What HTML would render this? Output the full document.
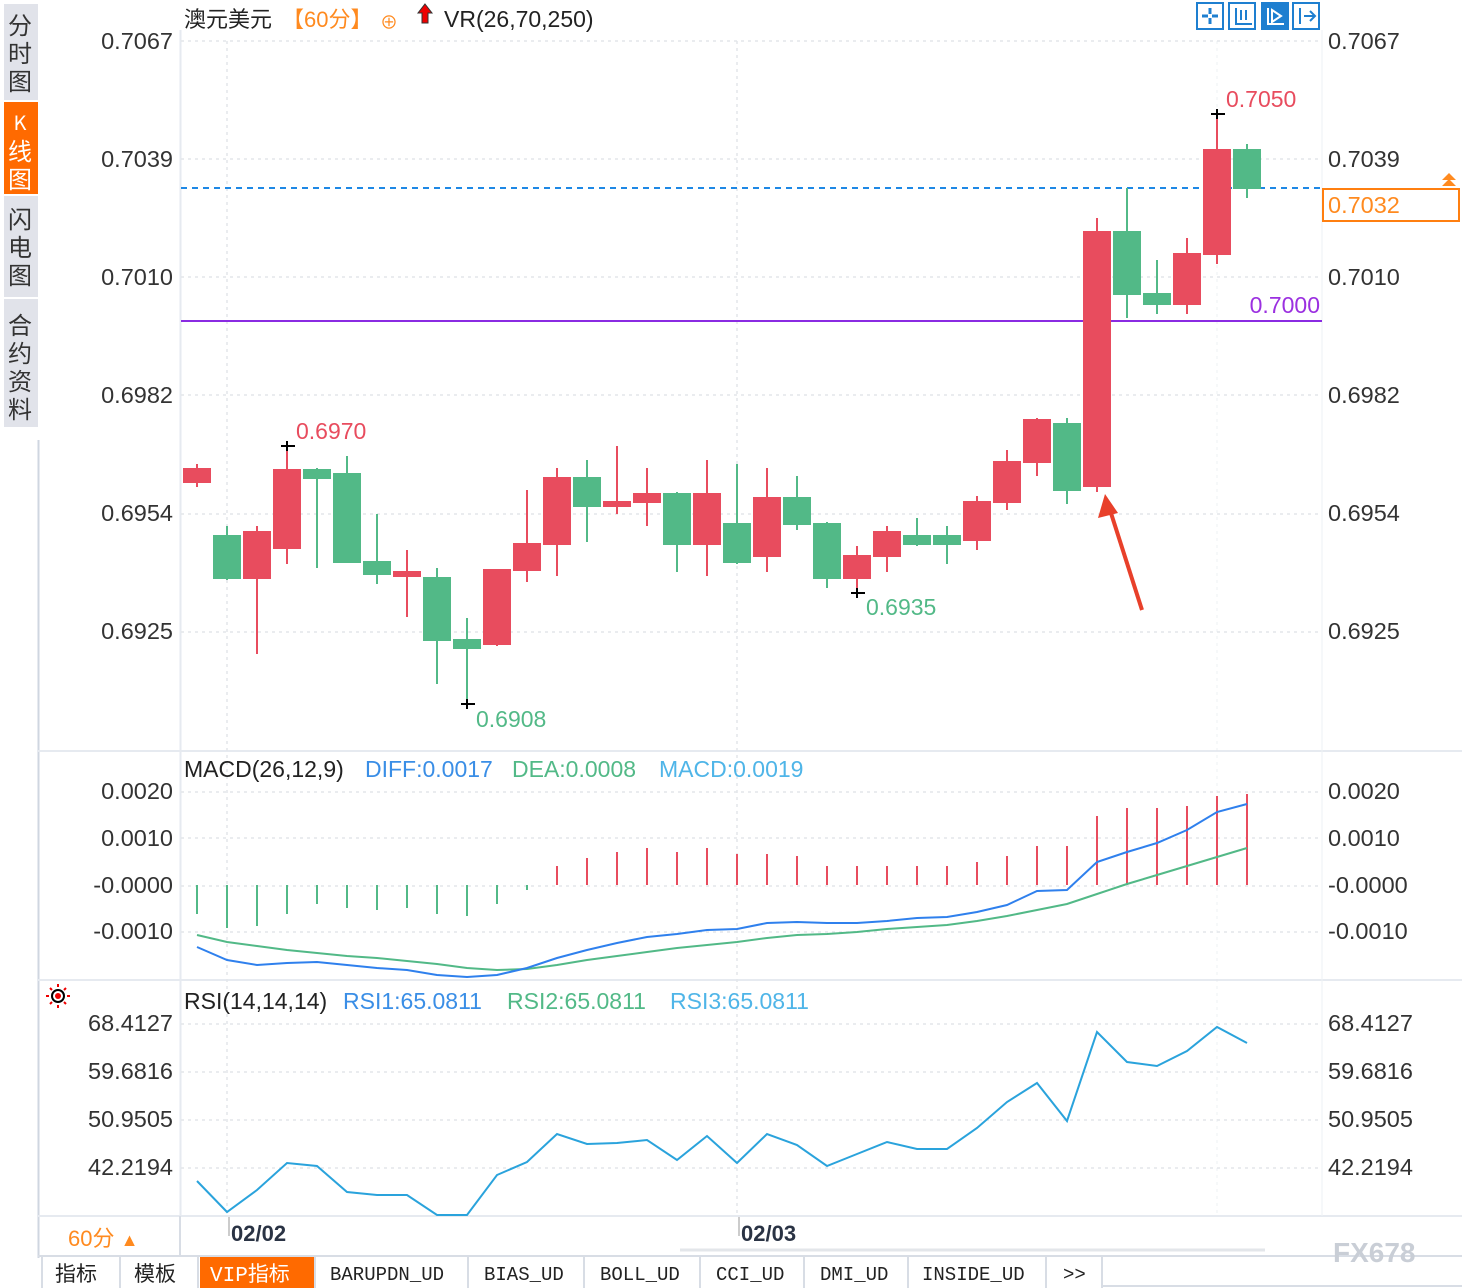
<!DOCTYPE html>
<html><head><meta charset="utf-8"><style>
html,body{margin:0;padding:0;background:#fff;}
svg{display:block;font-family:"Liberation Sans","Noto Sans CJK SC",sans-serif;}
</style></head><body>
<svg width="1462" height="1288" viewBox="0 0 1462 1288" xmlns="http://www.w3.org/2000/svg">
<rect width="1462" height="1288" fill="#fff"/>
<!-- sidebar -->
<rect x="4" y="4" width="34" height="96" fill="#e1e3ea"/>
<rect x="4" y="102" width="34" height="92" fill="#ff6a00"/>
<rect x="4" y="196" width="34" height="101" fill="#e1e3ea"/>
<rect x="4" y="299" width="34" height="128" fill="#e1e3ea"/>
<g font-size="24" fill="#333" text-anchor="middle" font-family="Noto Sans CJK SC,sans-serif">
<text x="20" y="34">分</text><text x="20" y="62">时</text><text x="20" y="90">图</text>
<text x="20" y="130" fill="#fff" font-size="20">K</text><text x="20" y="160" fill="#fff">线</text><text x="20" y="188" fill="#fff">图</text>
<text x="20" y="228">闪</text><text x="20" y="256">电</text><text x="20" y="284">图</text>
<text x="20" y="334">合</text><text x="20" y="362">约</text><text x="20" y="390">资</text><text x="20" y="418">料</text>
</g>
<!-- frame lines -->
<line x1="38.5" y1="440" x2="38.5" y2="1258" stroke="#cfd6e0" stroke-width="2"/>
<line x1="180.5" y1="30" x2="180.5" y2="1216" stroke="#e6eaf0" stroke-width="2"/>
<line x1="38" y1="751" x2="1462" y2="751" stroke="#e6eaf0" stroke-width="2"/>
<line x1="38" y1="980" x2="1462" y2="980" stroke="#e6eaf0" stroke-width="2"/>
<line x1="38" y1="1216" x2="1462" y2="1216" stroke="#e6eaf0" stroke-width="2"/>
<line x1="38" y1="1256" x2="1462" y2="1256" stroke="#d8dde5" stroke-width="2"/>
<line x1="1322" y1="30" x2="1322" y2="1216" stroke="#eef1f5" stroke-width="1"/>
<!-- grid -->
<g stroke="#e3e6ea" stroke-dasharray="3,4" stroke-width="1.5">
<line x1="181" y1="41" x2="1322" y2="41"/><line x1="181" y1="159" x2="1322" y2="159"/><line x1="181" y1="277" x2="1322" y2="277"/>
<line x1="181" y1="395" x2="1322" y2="395"/><line x1="181" y1="514" x2="1322" y2="514"/><line x1="181" y1="632" x2="1322" y2="632"/>
<line x1="181" y1="792" x2="1322" y2="792"/><line x1="181" y1="838" x2="1322" y2="838"/><line x1="181" y1="886" x2="1322" y2="886"/><line x1="181" y1="932" x2="1322" y2="932"/>
<line x1="181" y1="1024" x2="1322" y2="1024"/><line x1="181" y1="1072" x2="1322" y2="1072"/><line x1="181" y1="1120" x2="1322" y2="1120"/><line x1="181" y1="1168" x2="1322" y2="1168"/>
<line x1="227" y1="41" x2="227" y2="1216"/><line x1="737" y1="41" x2="737" y2="1216"/><line x1="1217" y1="41" x2="1217" y2="1216" stroke-opacity="0.4"/>
</g>
<!-- axis labels -->
<g font-size="23.5" fill="#333" text-anchor="end">
<text x="173" y="49">0.7067</text><text x="173" y="167">0.7039</text><text x="173" y="285">0.7010</text><text x="173" y="403">0.6982</text><text x="173" y="521">0.6954</text><text x="173" y="639">0.6925</text>
<text x="173" y="799">0.0020</text><text x="173" y="846">0.0010</text><text x="173" y="893">-0.0000</text><text x="173" y="939">-0.0010</text>
<text x="173" y="1031">68.4127</text><text x="173" y="1079">59.6816</text><text x="173" y="1127">50.9505</text><text x="173" y="1175">42.2194</text>
</g>
<g font-size="23.5" fill="#333">
<text x="1328" y="49">0.7067</text><text x="1328" y="167">0.7039</text><text x="1328" y="285">0.7010</text><text x="1328" y="403">0.6982</text><text x="1328" y="521">0.6954</text><text x="1328" y="639">0.6925</text>
<text x="1328" y="799">0.0020</text><text x="1328" y="846">0.0010</text><text x="1328" y="893">-0.0000</text><text x="1328" y="939">-0.0010</text>
<text x="1328" y="1031">68.4127</text><text x="1328" y="1079">59.6816</text><text x="1328" y="1127">50.9505</text><text x="1328" y="1175">42.2194</text>
</g>
<!-- title -->
<text x="184" y="27" font-size="22" fill="#222">澳元美元</text>
<text x="282" y="27" font-size="22" fill="#ff8a1f">【60分】</text>
<text x="380" y="29" font-size="18" fill="#ff8a1f">⊕</text>
<path d="M425 4 l7 9 h-4 v10 h-6 v-10 h-4 z" fill="#e00" stroke="#333" stroke-width="1"/>
<text x="444" y="27" font-size="23" fill="#222">VR(26,70,250)</text>
<!-- top right buttons -->
<g fill="none" stroke="#1e7fd0" stroke-width="2">
<rect x="1197" y="3" width="26" height="26"/><rect x="1229" y="3" width="26" height="26"/><rect x="1293" y="3" width="26" height="26"/>
</g>
<rect x="1261" y="2" width="28" height="28" fill="#1e7fd0"/>
<g stroke="#1e7fd0" stroke-width="3"><line x1="1210" y1="8" x2="1210" y2="14"/><line x1="1210" y1="18" x2="1210" y2="24"/><line x1="1202" y1="16" x2="1208" y2="16"/><line x1="1212" y1="16" x2="1218" y2="16"/>
<path d="M1236 8 v16 h16 M1241 10 v10 M1246 10 v10" fill="none" stroke-width="2"/><path d="M1300 8 v16 M1304 16 h10 M1310 11 l5 5 -5 5" fill="none" stroke-width="2"/></g>
<path d="M1268 8 v16 h16 M1272 10 l9 6 -9 6z" fill="none" stroke="#fff" stroke-width="2"/>
<!-- price lines -->
<line x1="181" y1="188" x2="1322" y2="188" stroke="#1e88e5" stroke-width="2" stroke-dasharray="6,5"/>
<line x1="181" y1="321" x2="1322" y2="321" stroke="#8a2be2" stroke-width="2"/>
<text x="1320" y="313" font-size="23" fill="#9b30e0" text-anchor="end">0.7000</text>
<rect x="1323" y="189" width="136" height="32" fill="#fff" stroke="#ff7f10" stroke-width="2"/>
<text x="1328" y="213" font-size="23.5" fill="#ff8a1f">0.7032</text>
<path d="M1442 186 l7 -7 7 7z M1442 180 l7 -7 7 7z" fill="#ff8a1f"/>
<!-- candles -->
<g stroke-width="2">
<g stroke="#e84c5e" fill="#e84c5e">
<line x1="197" y1="464" x2="197" y2="487"/><rect x="184" y="469" width="26" height="13"/>
<line x1="257" y1="526" x2="257" y2="654"/><rect x="244" y="532" width="26" height="46"/>
<line x1="287" y1="446" x2="287" y2="564"/><rect x="274" y="470" width="26" height="78"/>
<line x1="407" y1="550" x2="407" y2="617"/><rect x="394" y="572" width="26" height="4"/>
<line x1="497" y1="570" x2="497" y2="646"/><rect x="484" y="570" width="26" height="74"/>
<line x1="527" y1="490" x2="527" y2="582"/><rect x="514" y="544" width="26" height="26"/>
<line x1="557" y1="468" x2="557" y2="576"/><rect x="544" y="478" width="26" height="66"/>
<line x1="617" y1="446" x2="617" y2="514"/><rect x="604" y="502" width="26" height="4"/>
<line x1="647" y1="468" x2="647" y2="526"/><rect x="634" y="494" width="26" height="8"/>
<line x1="707" y1="460" x2="707" y2="576"/><rect x="694" y="494" width="26" height="50"/>
<line x1="767" y1="468" x2="767" y2="572"/><rect x="754" y="498" width="26" height="58"/>
<line x1="857" y1="546" x2="857" y2="592"/><rect x="844" y="556" width="26" height="22"/>
<line x1="887" y1="526" x2="887" y2="572"/><rect x="874" y="532" width="26" height="24"/>
<line x1="977" y1="496" x2="977" y2="550"/><rect x="964" y="502" width="26" height="38"/>
<line x1="1007" y1="450" x2="1007" y2="510"/><rect x="994" y="462" width="26" height="40"/>
<line x1="1037" y1="418" x2="1037" y2="476"/><rect x="1024" y="420" width="26" height="42"/>
<line x1="1097" y1="218" x2="1097" y2="492"/><rect x="1084" y="232" width="26" height="254"/>
<line x1="1187" y1="238" x2="1187" y2="314"/><rect x="1174" y="254" width="26" height="50"/>
<line x1="1217" y1="114" x2="1217" y2="264"/><rect x="1204" y="150" width="26" height="104"/>
</g>
<g stroke="#52b987" fill="#52b987">
<line x1="227" y1="526" x2="227" y2="580"/><rect x="214" y="536" width="26" height="42"/>
<line x1="317" y1="468" x2="317" y2="568"/><rect x="304" y="470" width="26" height="8"/>
<line x1="347" y1="456" x2="347" y2="562"/><rect x="334" y="474" width="26" height="88"/>
<line x1="377" y1="514" x2="377" y2="584"/><rect x="364" y="562" width="26" height="12"/>
<line x1="437" y1="568" x2="437" y2="684"/><rect x="424" y="578" width="26" height="62"/>
<line x1="467" y1="618" x2="467" y2="704"/><rect x="454" y="640" width="26" height="8"/>
<line x1="587" y1="460" x2="587" y2="542"/><rect x="574" y="478" width="26" height="28"/>
<line x1="677" y1="492" x2="677" y2="572"/><rect x="664" y="494" width="26" height="50"/>
<line x1="737" y1="464" x2="737" y2="564"/><rect x="724" y="524" width="26" height="38"/>
<line x1="797" y1="476" x2="797" y2="530"/><rect x="784" y="498" width="26" height="26"/>
<line x1="827" y1="522" x2="827" y2="588"/><rect x="814" y="524" width="26" height="54"/>
<line x1="917" y1="518" x2="917" y2="546"/><rect x="904" y="536" width="26" height="8"/>
<line x1="947" y1="526" x2="947" y2="564"/><rect x="934" y="536" width="26" height="8"/>
<line x1="1067" y1="418" x2="1067" y2="504"/><rect x="1054" y="424" width="26" height="66"/>
<line x1="1127" y1="188" x2="1127" y2="318"/><rect x="1114" y="232" width="26" height="62"/>
<line x1="1157" y1="260" x2="1157" y2="314"/><rect x="1144" y="294" width="26" height="10"/>
<line x1="1247" y1="144" x2="1247" y2="198"/><rect x="1234" y="150" width="26" height="38"/>
</g>
</g>
<!-- hi/lo markers -->
<g stroke="#000" stroke-width="2"><line x1="281" y1="446" x2="295" y2="446"/><line x1="287" y1="441" x2="287" y2="451"/>
<line x1="461" y1="704" x2="475" y2="704"/><line x1="467" y1="699" x2="467" y2="709"/>
<line x1="851" y1="593" x2="865" y2="593"/><line x1="857" y1="588" x2="857" y2="598"/>
<line x1="1211" y1="114" x2="1225" y2="114"/><line x1="1217" y1="109" x2="1217" y2="119"/></g>
<g font-size="23"><text x="296" y="439" fill="#e84c5e">0.6970</text><text x="476" y="727" fill="#52b987">0.6908</text>
<text x="866" y="615" fill="#52b987">0.6935</text><text x="1226" y="107" fill="#e84c5e">0.7050</text></g>
<!-- arrow -->
<line x1="1142" y1="610" x2="1110" y2="510" stroke="#e8402a" stroke-width="4"/>
<path d="M1105 494 l-7 24 l20 -5z" fill="#e8402a"/>
<!-- MACD -->
<g font-size="23"><text x="184" y="777" fill="#222">MACD(26,12,9)</text><text x="365" y="777" fill="#3a8ee6">DIFF:0.0017</text><text x="512" y="777" fill="#52b987">DEA:0.0008</text><text x="659" y="777" fill="#4fb5e8">MACD:0.0019</text></g>
<g stroke="#52b987" stroke-width="2">
<line x1="197" y1="885" x2="197" y2="914"/><line x1="227" y1="885" x2="227" y2="928"/><line x1="257" y1="885" x2="257" y2="926"/><line x1="287" y1="885" x2="287" y2="914"/>
<line x1="317" y1="885" x2="317" y2="904"/><line x1="347" y1="885" x2="347" y2="908"/><line x1="377" y1="885" x2="377" y2="910"/><line x1="407" y1="885" x2="407" y2="908"/>
<line x1="437" y1="885" x2="437" y2="914"/><line x1="467" y1="885" x2="467" y2="916"/><line x1="497" y1="885" x2="497" y2="904"/><line x1="527" y1="885" x2="527" y2="890"/>
</g>
<g stroke="#e84c5e" stroke-width="2">
<line x1="557" y1="885" x2="557" y2="866"/><line x1="587" y1="885" x2="587" y2="858"/><line x1="617" y1="885" x2="617" y2="852"/><line x1="647" y1="885" x2="647" y2="848"/>
<line x1="677" y1="885" x2="677" y2="852"/><line x1="707" y1="885" x2="707" y2="848"/><line x1="737" y1="885" x2="737" y2="854"/><line x1="767" y1="885" x2="767" y2="854"/>
<line x1="797" y1="885" x2="797" y2="856"/><line x1="827" y1="885" x2="827" y2="866"/><line x1="857" y1="885" x2="857" y2="866"/><line x1="887" y1="885" x2="887" y2="866"/>
<line x1="917" y1="885" x2="917" y2="866"/><line x1="947" y1="885" x2="947" y2="866"/><line x1="977" y1="885" x2="977" y2="862"/><line x1="1007" y1="885" x2="1007" y2="856"/>
<line x1="1037" y1="885" x2="1037" y2="846"/><line x1="1067" y1="885" x2="1067" y2="846"/><line x1="1097" y1="885" x2="1097" y2="816"/><line x1="1127" y1="885" x2="1127" y2="808"/>
<line x1="1157" y1="885" x2="1157" y2="808"/><line x1="1187" y1="885" x2="1187" y2="806"/><line x1="1217" y1="885" x2="1217" y2="796"/><line x1="1247" y1="885" x2="1247" y2="794"/>
</g>
<polyline fill="none" stroke="#52b987" stroke-width="2" points="197,935 227,942 257,946 287,950 317,953 347,956 377,958 407,961 437,964 467,968 497,970 527,969 557,965 587,960 617,956 647,952 677,948 707,945 737,942 767,938 797,935 827,934 857,932 887,929 917,927 947,925 977,921 1007,916 1037,910 1067,904 1097,894 1127,884 1157,875 1187,866 1217,857 1247,848"/>
<polyline fill="none" stroke="#2f80ed" stroke-width="2" points="197,947 227,960 257,965 287,963 317,962 347,965 377,968 407,970 437,975 467,977 497,975 527,968 557,958 587,950 617,943 647,937 677,934 707,930 737,929 767,923 797,922 827,923 857,923 887,921 917,918 947,917 977,912 1007,905 1037,891 1067,890 1097,862 1127,852 1157,843 1187,830 1217,812 1247,804"/>
<!-- RSI -->
<g stroke="#e00" stroke-width="2" fill="none"><circle cx="58" cy="996" r="6" stroke="#000"/><circle cx="58" cy="996" r="3" fill="#e00" stroke="none"/>
<path d="M58 984v3M58 1005v3M46 996h3M67 996h3M50 988l2 2M64 1002l2 2M66 988l-2 2M50 1004l2-2"/></g>
<g font-size="23"><text x="184" y="1009" fill="#222">RSI(14,14,14)</text><text x="343" y="1009" fill="#3a8ee6">RSI1:65.0811</text><text x="507" y="1009" fill="#52b987">RSI2:65.0811</text><text x="670" y="1009" fill="#4fb5e8">RSI3:65.0811</text></g>
<polyline fill="none" stroke="#2aa3dc" stroke-width="2" points="197,1181 227,1212 257,1190 287,1163 317,1166 347,1192 377,1195 407,1195 437,1215 467,1215 497,1175 527,1162 557,1134 587,1144 617,1143 647,1140 677,1160 707,1136 737,1163 767,1134 797,1145 827,1166 857,1154 887,1142 917,1149 947,1149 977,1128 1007,1102 1037,1083 1067,1121 1097,1032 1127,1062 1157,1066 1187,1051 1217,1027 1247,1043"/>
<!-- date row -->
<line x1="180" y1="1216" x2="180" y2="1256" stroke="#d8dde5" stroke-width="2"/>
<text x="68" y="1246" font-size="22" fill="#ff8a1f">60分 <tspan font-size="18">▲</tspan></text>
<line x1="229" y1="1217" x2="229" y2="1236" stroke="#999"/><line x1="739" y1="1217" x2="739" y2="1236" stroke="#999"/>
<text x="231" y="1241" font-size="22" font-weight="bold" fill="#2a3344">02/02</text>
<text x="741" y="1241" font-size="22" font-weight="bold" fill="#2a3344">02/03</text>
<line x1="680" y1="1250" x2="1265" y2="1250" stroke="#e3e6ea" stroke-width="3"/>
<text x="1333" y="1262" font-size="28" fill="#c9ced6" font-weight="bold">FX678</text>
<!-- tabs -->
<rect x="200" y="1257" width="114" height="31" fill="#ff6a00"/>
<g stroke="#d8dde5" stroke-width="2"><line x1="42" y1="1257" x2="42" y2="1288"/><line x1="120" y1="1257" x2="120" y2="1288"/><line x1="198" y1="1257" x2="198" y2="1288"/><line x1="315" y1="1257" x2="315" y2="1288"/><line x1="468" y1="1257" x2="468" y2="1288"/><line x1="584" y1="1257" x2="584" y2="1288"/><line x1="700" y1="1257" x2="700" y2="1288"/><line x1="804" y1="1257" x2="804" y2="1288"/><line x1="908" y1="1257" x2="908" y2="1288"/><line x1="1046" y1="1257" x2="1046" y2="1288"/><line x1="1102" y1="1257" x2="1102" y2="1288"/><line x1="1102" y1="1286" x2="1462" y2="1286"/></g>
<g font-size="21" fill="#222" font-family="Liberation Mono,Noto Sans CJK SC,monospace">
<text x="55" y="1281" font-family="Noto Sans CJK SC,sans-serif">指标</text><text x="134" y="1281" font-family="Noto Sans CJK SC,sans-serif">模板</text>
<text x="210" y="1281" fill="#fff">VIP<tspan font-family="Noto Sans CJK SC,sans-serif">指标</tspan></text>
<text x="330" y="1280" font-size="19">BARUPDN_UD</text><text x="484" y="1280" font-size="19">BIAS_UD</text><text x="600" y="1280" font-size="19">BOLL_UD</text>
<text x="716" y="1280" font-size="19">CCI_UD</text><text x="820" y="1280" font-size="19">DMI_UD</text><text x="922" y="1280" font-size="19">INSIDE_UD</text><text x="1063" y="1280" font-size="19">&gt;&gt;</text>
</g>
</svg>
</body></html>
